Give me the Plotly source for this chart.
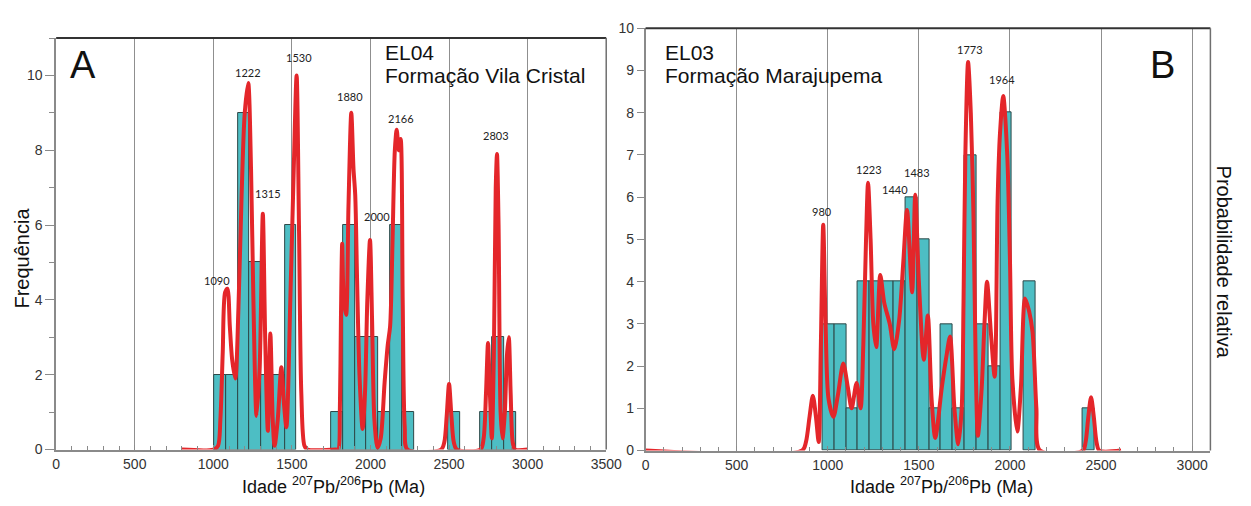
import plotly.graph_objects as go

# ---------------- DATA ----------------
# Panel A (EL04) histogram: bin start ages (Ma), bin width, counts
a_bin_start = [1005, 1080, 1155, 1230, 1305, 1380, 1455,
               1750, 1825, 1900, 1975, 2050, 2125, 2200,
               2495,
               2700, 2775, 2850]
a_bin_count = [2, 2, 9, 5, 2, 2, 6,
               1, 6, 3, 3, 1, 6, 1,
               1,
               1, 3, 1]
a_bin_width = 75

# Panel A probability curve (age Ma, value in frequency units)
a_curve_age = [800, 1000, 1030, 1045, 1060, 1075, 1090, 1105, 1120, 1140, 1160, 1180, 1200, 1222,
               1240, 1255, 1275, 1295, 1315, 1330, 1347, 1363, 1378, 1390, 1410, 1433, 1450, 1465,
               1490, 1510, 1530, 1545, 1560, 1580, 1600,
               1780, 1795, 1805, 1812, 1820, 1830, 1845, 1860, 1878, 1892, 1903, 1915, 1930, 1950,
               1965, 1980, 1997, 2010, 2025, 2045, 2065, 2090, 2110, 2125, 2140, 2155, 2167, 2180,
               2192, 2205, 2218, 2235,
               2450, 2470, 2485, 2500, 2515, 2530, 2550,
               2700, 2720, 2735, 2748, 2760, 2772, 2785, 2797, 2805, 2815, 2828, 2840, 2855, 2868,
               2880, 2892, 2905, 2920, 3000]
a_curve_val = [0, 0, 0.1, 0.8, 2.6, 4.2, 4.3, 3.3, 2.4, 1.9, 3.8, 6.8, 9.0, 9.8,
               7.5, 4.0, 0.9, 2.2, 6.3, 3.0, 0.5, 3.1, 0.8, 0.1, 0.8, 2.2, 1.2, 0.6,
               4.0, 7.2, 10.0, 6.0, 1.5, 0.1, 0,
               0, 0, 1.0, 3.5, 5.5, 4.0, 3.6, 6.5, 9.0, 7.5, 6.8, 4.5, 2.0, 0.55,
               1.5, 4.0, 5.6, 3.5, 0.8, 0.05, 0.3, 1.8, 2.8, 3.3, 5.5, 8.0, 8.55, 8.0,
               8.3, 4.0, 0.6, 0,
               0, 0.2, 0.9, 1.75, 0.9, 0.2, 0,
               0, 0.3, 1.5, 2.85, 1.5, 0.3, 2.5, 7.0, 7.9, 6.0, 1.0, 0.3, 1.0, 2.5,
               3.0, 1.5, 0.2, 0, 0]

a_peak_labels = ["1090", "1222", "1315", "1530", "1880", "2000", "2166", "2803"]

# Panel B (EL03) histogram
b_bin_start = [971, 1036, 1101, 1166, 1231, 1296, 1361, 1426, 1491, 1556, 1621, 1686,
               1751, 1816, 1881, 1946, 2076, 2401]
b_bin_count = [3, 3, 1, 4, 4, 4, 4, 6, 5, 1, 3, 1,
               7, 3, 2, 8, 4, 1]
b_bin_width = 65

# Panel B probability curve
b_curve_age = [0, 860, 880, 900, 918, 935, 950, 962, 975, 988, 1004, 1031, 1055, 1085, 1110,
               1131, 1158, 1180, 1195, 1210, 1221, 1235, 1250, 1266, 1288, 1310, 1340, 1365,
               1392, 1415, 1435, 1463, 1480, 1500, 1527, 1549, 1570, 1590, 1626, 1650, 1671,
               1695, 1716, 1735, 1745, 1755, 1770, 1785, 1800, 1812, 1824, 1845, 1860, 1874,
               1895, 1916, 1932, 1945, 1963, 1985, 2000, 2013, 2040, 2060, 2083, 2105, 2124,
               2145, 2165, 2400, 2415, 2430, 2445, 2460, 2475, 2490, 2610]
b_curve_val = [0, 0, 0.2, 0.8, 1.3, 0.8, 0.2, 2.5, 5.35, 3.0, 1.23, 0.8, 1.3, 2.06, 1.5,
               1.0, 1.6, 1.0, 2.5, 5.0, 6.34, 5.0, 3.0, 2.45, 4.16, 3.5, 3.0, 2.4,
               3.1, 4.5, 5.7, 3.75, 6.06, 4.0, 2.15, 3.2, 1.2, 0.3, 1.5, 2.2, 2.7,
               1.0, 0.15, 1.0, 3.5, 7.0, 9.2, 8.0, 5.5, 2.0, 0.35, 1.5, 3.0, 4.0,
               2.8, 1.75, 5.9, 7.5, 8.4, 7.0, 4.5, 1.7, 0.45, 1.5, 3.6, 3.3, 2.8,
               1.0, 0, 0, 0.2, 0.8, 1.26, 0.8, 0.2, 0, 0]

b_peak_labels = ["980", "1223", "1440", "1483", "1773", "1964"]

x_ticks_a = [0, 500, 1000, 1500, 2000, 2500, 3000, 3500]
x_ticks_b = [0, 500, 1000, 1500, 2000, 2500, 3000]

# ---------------- STYLE / LAYOUT ----------------
BAR_FILL = "#4dbec4"
BAR_LINE = "#2d4747"
RED = "#e4262a"
GRID = "#8f8f8f"
AXIS = "#8a8a8a"
FONT = "Liberation Sans, Arial, sans-serif"

# label positions (data coords) for peak-age annotations
a_label_pos = [(1021, 4.52), (1218, 10.08), (1349, 6.85), (1547, 10.47),
               (1872, 9.43), (2041, 6.23), (2192, 8.84), (2799, 8.40)]
b_label_pos = [(966, 5.67), (1228, 6.66), (1368, 6.18), (1489, 6.59),
               (1778, 9.49), (1956, 8.80)]

fig = go.Figure()

fig.add_trace(go.Bar(x=a_bin_start, y=a_bin_count, width=a_bin_width, offset=0,
                     marker=dict(color=BAR_FILL, line=dict(color=BAR_LINE, width=1)),
                     xaxis="x", yaxis="y", showlegend=False))
fig.add_trace(go.Scatter(x=a_curve_age, y=a_curve_val, mode="lines",
                         line=dict(color=RED, width=4, shape="spline", smoothing=0.8),
                         xaxis="x", yaxis="y", showlegend=False))

fig.add_trace(go.Bar(x=b_bin_start, y=b_bin_count, width=b_bin_width, offset=0,
                     marker=dict(color=BAR_FILL, line=dict(color=BAR_LINE, width=1)),
                     xaxis="x2", yaxis="y2", showlegend=False))
fig.add_trace(go.Scatter(x=b_curve_age, y=b_curve_val, mode="lines",
                         line=dict(color=RED, width=4, shape="spline", smoothing=0.8),
                         xaxis="x2", yaxis="y2", showlegend=False))

tickfont = dict(family=FONT, size=14, color="#333333")

common_x = dict(showline=True, linecolor=AXIS, linewidth=1.5, showgrid=True, gridcolor=GRID,
                gridwidth=1, ticks="inside", ticklen=5, tickcolor=AXIS, tickfont=tickfont,
                zeroline=False, ticklabelstandoff=1,
                minor=dict(dtick=100, ticks="inside", ticklen=4, tickcolor=AXIS, showgrid=False))

fig.update_layout(
    width=1251, height=506,
    margin=dict(l=0, r=0, t=0, b=0),
    paper_bgcolor="white", plot_bgcolor="white",
    bargap=0,
    xaxis=dict(domain=[53/1251, 612/1251], range=[0, 3500], tickvals=x_ticks_a,
               anchor="y", **common_x),
    yaxis=dict(domain=[50/506, 475/506], range=[0, 11], dtick=2, showline=True,
               linecolor=AXIS, linewidth=1.5, ticks="outside", ticklen=9, tickcolor=AXIS,
               tickfont=tickfont, showgrid=False, zeroline=False, anchor="x",
               minor=dict(dtick=1, ticks="outside", ticklen=5, tickcolor=AXIS)),
    xaxis2=dict(domain=[652/1251, 1226/1251], range=[0, 3100], tickvals=x_ticks_b,
                anchor="y2", **common_x),
    yaxis2=dict(domain=[49/506, 485/506], range=[0, 10], dtick=1, showline=True,
                linecolor=AXIS, linewidth=1.5, ticks="outside", ticklen=7, tickcolor=AXIS,
                tickfont=tickfont, showgrid=False, zeroline=False, anchor="x2"),
)

# borders (top dark, right grey)
for xr, yr in (("x", "y"), ("x2", "y2")):
    fig.add_shape(type="line", xref=f"{xr} domain", yref=f"{yr} domain",
                  x0=0, x1=1, y0=1, y1=1, line=dict(color="#333333", width=2))
    fig.add_shape(type="line", xref=f"{xr} domain", yref=f"{yr} domain",
                  x0=1, x1=1, y0=0, y1=1, line=dict(color="#6f6f6f", width=1.5))

# peak labels
lblfont = dict(family="Lato, Open Sans, sans-serif", size=11, color="#222222")
for txt, (px, py) in zip(a_peak_labels, a_label_pos):
    fig.add_annotation(x=px, y=py, xref="x", yref="y", text=txt, showarrow=False,
                       font=lblfont, xanchor="center", yanchor="middle")
for txt, (px, py) in zip(b_peak_labels, b_label_pos):
    fig.add_annotation(x=px, y=py, xref="x2", yref="y2", text=txt, showarrow=False,
                       font=lblfont, xanchor="center", yanchor="middle")

def P(px, py):
    return px / 1251, 1 - py / 506

big = dict(family=FONT, size=38, color="#111111")
mid = dict(family=FONT, size=21, color="#111111")

for txt, (px, py), f, xa in [
    ("A", (80, 59), big, "center"),
    ("B", (1177, 59), big, "center"),
    ("EL04", (385, 46), mid, "left"),
    ("Formação Vila Cristal", (385, 70), mid, "left"),
    ("EL03", (670, 46), mid, "left"),
    ("Formação Marajupema", (670, 70), mid, "left"),
]:
    x, y = P(px, py)
    fig.add_annotation(x=x, y=y, xref="paper", yref="paper", text=txt, showarrow=False,
                       font=f, xanchor=xa, yanchor="middle")

title_font = dict(family=FONT, size=20, color="#111111")
x, y = P(18, 258)
fig.add_annotation(x=x, y=y, xref="paper", yref="paper", text="Frequência", textangle=-90,
                   showarrow=False, font=title_font, xanchor="center", yanchor="middle")
x, y = P(1240, 262)
fig.add_annotation(x=x, y=y, xref="paper", yref="paper", text="Probabilidade relativa",
                   textangle=90, showarrow=False, font=title_font,
                   xanchor="center", yanchor="middle")
xtitle = "Idade <sup>207</sup>Pb/<sup>206</sup>Pb (Ma)"
title_font_x = dict(family=FONT, size=18, color="#111111")
for cx in (335, 953):
    x, y = P(cx, 507)
    fig.add_annotation(x=x, y=y, xref="paper", yref="paper", text=xtitle, showarrow=False,
                       font=title_font_x, xanchor="center", yanchor="bottom")

fig.write_html("out.html")
